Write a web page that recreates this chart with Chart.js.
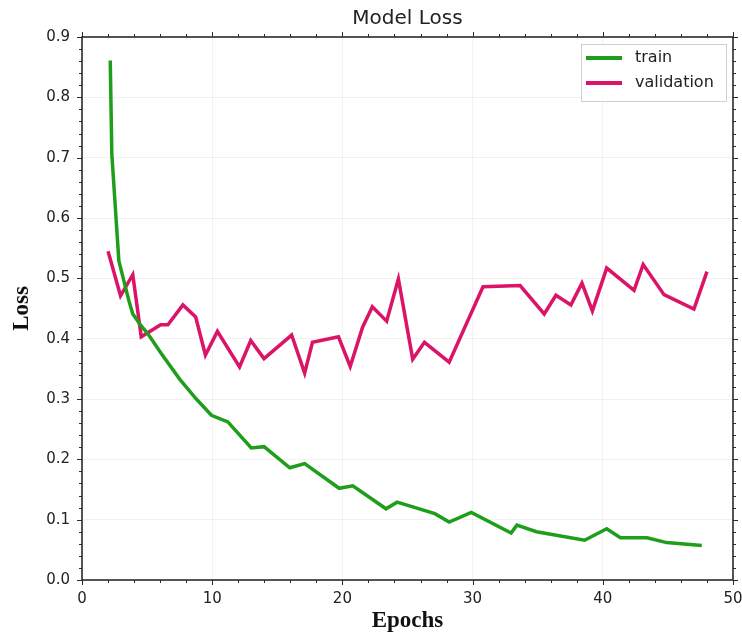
<!DOCTYPE html>
<html>
<head>
<meta charset="utf-8">
<script src="https://cdn.jsdelivr.net/npm/chart.js@4.4.1/dist/chart.umd.min.js"></script>
<style>
  html, body { margin: 0; padding: 0; background: #ffffff; }
  #wrap { width: 742px; height: 639px; position: relative; }
</style>
</head>
<body>
<div id="wrap"><canvas id="c" width="742" height="639"></canvas></div>
<script>
// ---- data ----
const chartTitle = "Model Loss";
const xTitle = "Epochs";
const yTitle = "Loss";
const seriesNames = ["train", "validation"];

const trainX = [2.17, 2.29, 2.83, 3.6, 3.9, 4.55, 5.06, 6.1, 7.5, 8.78, 9.94, 11.2, 13.0, 13.98, 15.96, 17.1, 19.75, 20.8, 23.35, 24.2, 27.1, 28.2, 29.9, 32.96, 33.4, 34.9, 38.6, 40.3, 41.35, 43.4, 44.9, 47.6];
const trainY = [0.861, 0.706, 0.529, 0.463, 0.441, 0.421, 0.408, 0.375, 0.333, 0.300, 0.273, 0.262, 0.219, 0.221, 0.186, 0.193, 0.152, 0.156, 0.118, 0.129, 0.110, 0.096, 0.112, 0.078, 0.091, 0.080, 0.066, 0.085, 0.070, 0.070, 0.062, 0.057];

const valX = [2.0, 2.96, 3.9, 4.55, 6.04, 6.6, 7.75, 8.73, 9.48, 10.4, 12.1, 12.96, 13.98, 16.1, 17.1, 17.7, 19.7, 20.6, 21.55, 22.3, 23.4, 24.3, 25.4, 26.3, 28.2, 30.8, 33.65, 35.5, 36.4, 37.55, 38.4, 39.2, 40.3, 42.4, 43.1, 44.7, 47.0, 48.0];
const valY = [0.545, 0.471, 0.506, 0.403, 0.423, 0.423, 0.456, 0.436, 0.373, 0.412, 0.353, 0.397, 0.367, 0.406, 0.343, 0.394, 0.403, 0.354, 0.419, 0.453, 0.429, 0.499, 0.366, 0.394, 0.361, 0.486, 0.488, 0.441, 0.472, 0.456, 0.492, 0.446, 0.517, 0.480, 0.523, 0.473, 0.449, 0.511];

const xTicks = [0, 10, 20, 30, 40, 50];
const yTicks = [0.0, 0.1, 0.2, 0.3, 0.4, 0.5, 0.6, 0.7, 0.8, 0.9];

const trainColor = "#1f9e1c";
const valColor = "#dc1468";

const toPts = (xs, ys) => xs.map((x, i) => ({ x: x, y: ys[i] }));

// frame + minor/major ticks on all four sides
const frameTicks = {
  id: "frameTicks",
  afterDraw(chart) {
    const { ctx, chartArea: { left, right, top, bottom }, scales: { x, y } } = chart;
    ctx.save();
    ctx.strokeStyle = "#2b2b2b";
    ctx.lineWidth = 1;
    for (let i = 0; i <= 25; i++) {
      const v = i * 2;
      const px = Math.round(x.getPixelForValue(v)) + 0.5;
      const L = (i % 5 === 0) ? 5 : 3;
      ctx.beginPath();
      ctx.moveTo(px, bottom); ctx.lineTo(px, bottom + L);
      ctx.moveTo(px, top); ctx.lineTo(px, top - L);
      ctx.stroke();
    }
    for (let i = 0; i <= 45; i++) {
      const v = i * 0.02;
      const py = Math.round(y.getPixelForValue(v)) + 0.5;
      const L = (i % 5 === 0) ? 5 : 3;
      ctx.beginPath();
      ctx.moveTo(left, py); ctx.lineTo(left - L, py);
      ctx.moveTo(right, py); ctx.lineTo(right + L, py);
      ctx.stroke();
    }
    ctx.lineWidth = 1.6;
    ctx.strokeRect(left, top, right - left, bottom - top);
    ctx.restore();
  }
};

// boxed legend at top right inside the plot
const boxLegend = {
  id: "boxLegend",
  afterDraw(chart) {
    const { ctx, chartArea: { right, top } } = chart;
    const ds = chart.data.datasets;
    const bx = right - 152, by = top + 7, bw = 145, bh = 57;
    ctx.save();
    ctx.fillStyle = "rgba(255,255,255,0.9)";
    ctx.fillRect(bx, by, bw, bh);
    ctx.strokeStyle = "#cfcfcf";
    ctx.lineWidth = 1;
    ctx.strokeRect(bx + 0.5, by + 0.5, bw, bh);
    ctx.font = "16px 'DejaVu Sans'";
    ctx.textBaseline = "middle";
    ds.forEach((d, i) => {
      const yy = by + 14 + i * 25;
      ctx.strokeStyle = d.borderColor;
      ctx.lineWidth = 4;
      ctx.beginPath();
      ctx.moveTo(bx + 5, yy); ctx.lineTo(bx + 41, yy);
      ctx.stroke();
      ctx.fillStyle = "#222";
      ctx.fillText(d.label, bx + 54, yy);
    });
    ctx.restore();
  }
};

new Chart(document.getElementById("c"), {
  type: "line",
  data: {
    datasets: [
      { label: seriesNames[0], data: toPts(trainX, trainY), borderColor: trainColor, backgroundColor: trainColor, borderWidth: 3.5, pointRadius: 0, tension: 0, fill: false },
      { label: seriesNames[1], data: toPts(valX, valY), borderColor: valColor, backgroundColor: valColor, borderWidth: 3.5, pointRadius: 0, tension: 0, fill: false }
    ]
  },
  options: {
    responsive: false,
    animation: false,
    devicePixelRatio: 1,
    layout: { padding: { left: 0, right: 9, top: 0, bottom: 0 } },
    plugins: {
      legend: { display: false },
      tooltip: { enabled: false },
      title: {
        display: true,
        fullSize: false,
        text: chartTitle,
        color: "#222",
        font: { family: "'DejaVu Sans'", size: 20, weight: "normal" },
        padding: { top: 7, bottom: 6 }
      }
    },
    scales: {
      x: {
        type: "linear",
        min: 0, max: 50,
        afterBuildTicks: (s) => { s.ticks = xTicks.map(v => ({ value: v })); },
        afterFit: (s) => { s.height = 59; s.paddingRight = 0; s.paddingLeft = 0; },
        grid: { display: true, color: "rgba(0,0,0,0.05)", drawTicks: false },
        border: { display: false },
        ticks: { color: "#222", padding: 10, font: { family: "'DejaVu Sans'", size: 15 }, maxRotation: 0, callback: (v) => String(v) },
        title: { display: true, text: xTitle, color: "#111", font: { family: "'Liberation Serif'", size: 23, weight: "bold" }, padding: { top: 0, bottom: 4 } }
      },
      y: {
        type: "linear",
        min: 0, max: 0.9,
        afterBuildTicks: (s) => { s.ticks = yTicks.map(v => ({ value: v })); },
        afterFit: (s) => { s.width = 82; s.paddingTop = 0; s.paddingBottom = 0; },
        grid: { display: true, color: "rgba(0,0,0,0.05)", drawTicks: false },
        border: { display: false },
        ticks: { color: "#222", padding: 12, font: { family: "'DejaVu Sans'", size: 15 }, callback: (v) => Number(v).toFixed(1) },
        title: { display: true, text: yTitle, color: "#111", font: { family: "'Liberation Serif'", size: 23, weight: "bold" }, padding: { top: 8, bottom: 0 } }
      }
    }
  },
  plugins: [frameTicks, boxLegend]
});
</script>
</body>
</html>
